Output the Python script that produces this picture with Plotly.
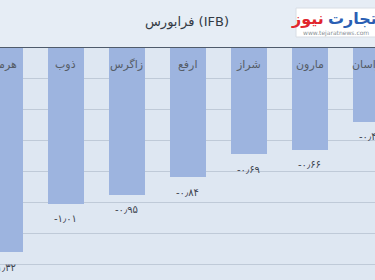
import plotly.graph_objects as go

categories = ["هرمز", "ذوب", "زاگرس", "ارفع", "شراز", "مارون", "خراسان"]
values = [-1.32, -1.01, -0.95, -0.84, -0.69, -0.66, -0.48]
title_text = "فرابورس (IFB)"
y_ticks = [0, -0.2, -0.4, -0.6, -0.8, -1.0, -1.2, -1.4]

FA = "۰۱۲۳۴۵۶۷۸۹"
LRM = "\u200e"
def fa_num(v):
    s = f"{v:.2f}"
    out = ""
    for ch in s:
        if ch.isdigit():
            out += FA[int(ch)]
        elif ch == ".":
            out += "٫"
        else:
            out += ch
    return LRM + out + LRM

W, H = 375, 280
top_px = 47
xs = list(range(len(categories)))

fig = go.Figure()
fig.add_trace(go.Bar(
    x=xs, y=values, width=0.59,
    marker=dict(color="#9db4df", line=dict(width=0)),
    hoverinfo="skip",
))

ann = []
for i, (c, v) in enumerate(zip(categories, values)):
    ann.append(dict(x=i, y=0, xref="x", yref="y", text=c, showarrow=False,
                    yshift=-18, font=dict(family="DejaVu Sans", size=11, color="#555c66")))
    ann.append(dict(x=i, y=v, xref="x", yref="y", text=fa_num(v), showarrow=False,
                    yshift=-15, font=dict(family="DejaVu Sans", size=10, color="#3d4550")))

# title
ann.append(dict(x=187 / W, y=1 - 22 / H, xref="paper", yref="paper", text=title_text,
                showarrow=False, yanchor="middle",
                font=dict(family="DejaVu Sans", size=13, color="#333a44")))
# logo
ann.append(dict(x=326 / W, y=1 - 19 / H, xref="paper", yref="paper", text="<b>نیوز</b>",
                showarrow=False, xanchor="right", yanchor="middle",
                font=dict(family="DejaVu Sans", size=16, color="#e1262d")))
ann.append(dict(x=326 / W, y=1 - 19 / H, xref="paper", yref="paper", text="<b>تجارت</b>",
                showarrow=False, xanchor="left", yanchor="middle",
                font=dict(family="DejaVu Sans", size=16, color="#2b5fb4")))
ann.append(dict(x=301 / W, y=1 - 32.5 / H, xref="paper", yref="paper", text="www.tejaratnews.com",
                showarrow=False, xanchor="left", yanchor="middle",
                font=dict(family="DejaVu Sans", size=6, color="#8a8f96")))

shapes = [
    dict(type="rect", xref="paper", yref="paper", x0=0, x1=1, y0=1 - top_px / H, y1=1,
         fillcolor="#e6edf5", line=dict(width=0), layer="below"),
    dict(type="rect", xref="paper", yref="paper", x0=296 / W, x1=1.01, y0=1 - 37 / H, y1=1 - 8 / H,
         fillcolor="#ffffff", line=dict(color="#d8dde4", width=1), layer="below"),
    dict(type="line", xref="paper", yref="y", x0=0, x1=1, y0=0, y1=0,
         line=dict(color="#4f5b6b", width=2)),
]

fig.update_layout(
    width=W, height=H,
    margin=dict(l=0, r=0, t=0, b=0),
    paper_bgcolor="#dee7f2", plot_bgcolor="#dee7f2",
    showlegend=False,
    bargap=0,
    xaxis=dict(range=[-0.077, 6.073], showticklabels=False, showgrid=False, zeroline=False,
               fixedrange=True),
    yaxis=dict(range=[-1.5, 0], domain=[0, 1 - top_px / H], tickvals=y_ticks,
               showticklabels=False, showgrid=True, gridcolor="#bfcad8", gridwidth=1,
               zeroline=False, fixedrange=True),
    annotations=ann, shapes=shapes,
)

fig.write_html("out.html")
